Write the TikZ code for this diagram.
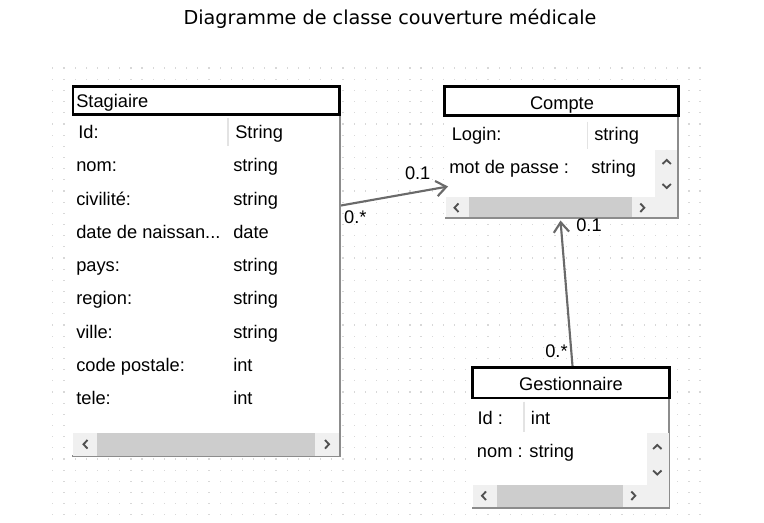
\documentclass[tikz,border=0pt]{standalone}
\usepackage{fontspec}
\setmainfont{Liberation Sans}
\newfontfamily\titlefont{DejaVu Sans}
\usetikzlibrary{arrows.meta,positioning}
\definecolor{dotgray}{HTML}{D8D8D8}
\definecolor{barbg}{HTML}{F0F0F0}
\definecolor{thumbgray}{HTML}{CDCDCD}
\definecolor{edgegray}{HTML}{8C8C8C}
\definecolor{divgray}{HTML}{E3E3E3}
\definecolor{chevgray}{HTML}{505050}
\definecolor{linkgray}{HTML}{6A6A6A}

\begin{document}
\begin{tikzpicture}[x=0.75pt,y=-0.75pt,font=\fontsize{13.7}{16}\selectfont,
  hdr/.style={draw=black,line width=2pt,fill=white},
  edge/.style={draw=edgegray,line width=1.5pt},
  divline/.style={draw=divgray,line width=1pt},
  chev/.style={draw=chevgray,line width=1.4pt},
  txt/.style={inner sep=0pt,text height=9.8pt,text depth=0pt},
  cell/.style={txt,anchor=west},
  link/.style={draw=linkgray,line width=1.6pt,-{Straight Barb[length=7.5pt,width=11.5pt,line width=1.6pt]}}]
  \useasboundingbox (0,0) rectangle (764,523);
  \node[font=\titlefont\fontsize{14.4}{17}\selectfont] (title) at (390,19) {Diagramme de classe couverture médicale};
  % dotted grid
  \foreach \i in {0,...,58}
    \foreach \j in {0,...,40}
      \fill[dotgray] (52.2+11.16*\i,67.5+11.17*\j) rectangle ++(1.2,1.2);

  % Stagiaire
  \fill[white] (72,115) rectangle (340,457);
  \draw[edge] (339.5,115) -- (339.5,456.5) -- (72,456.5);
  \fill[barbg] (73,433) rectangle (338.7,455.7);
  \fill[thumbgray] (97,433) rectangle (315,455.7);
  \draw[chev] (87.5,440) -- (83.5,444.3) -- (87.5,448.6);
  \draw[chev] (325,440) -- (329,444.3) -- (325,448.6);
  \draw[divline] (228,118) -- (228,146);
  \draw[hdr] (73,86.5) rectangle (339.5,114.5);
  \node[cell] (stag) at (76,100.8) {Stagiaire};
  \node[cell] (stag-id) at (78,131.7) {Id:};
  \node[cell] (stag-idt) at (235,131.7) {String};
  \foreach \y/\n/\t in {165.2/nom:/string, 198.5/civilité:/string, 231.8/{date de naissan...}/date,
                        265.1/pays:/string, 298.4/region:/string, 331.7/ville:/string,
                        365/code postale:/int, 398.3/tele:/int} {
    \node[cell] (stag-\y) at (76,\y) {\n};
    \node[cell] (stag-\y t) at (233,\y) {\t};}

  % Compte
  \fill[white] (445,115) rectangle (677.5,218.5);
  \draw[edge] (677.5,115) -- (677.5,218.5) -- (445,218.5);
  \fill[barbg] (655,150) rectangle (676.7,217.5);
  \fill[barbg] (445.5,197.3) rectangle (676.7,217.5);
  \fill[thumbgray] (469.3,197.3) rectangle (631.7,217.5);
  \draw[chev] (458.5,203.5) -- (454.5,207.7) -- (458.5,212);
  \draw[chev] (640.3,203.5) -- (644.3,207.7) -- (640.3,212);
  \draw[chev] (662.5,164) -- (666.7,160) -- (670.9,164);
  \draw[chev] (662.5,184) -- (666.7,188) -- (670.9,184);
  \draw[divline] (587.3,121.7) -- (587.3,149.3);
  \draw[hdr] (444.5,86.5) rectangle (678.5,115.5);
  \node[txt] (compte) at (562,102.5) {Compte};
  \node[cell] (cpt-login) at (451.5,133.5) {Login:};
  \node[cell] (cpt-logint) at (594,133.5) {string};
  \node[cell] (cpt-mdp) at (449,166.8) {mot de passe :};
  \node[cell] (cpt-mdpt) at (591,166.8) {string};

  % Gestionnaire
  \fill[white] (472,399) rectangle (669.3,508.5);
  \draw[edge] (669.3,399) -- (669.3,508.5) -- (472,508.5);
  \fill[barbg] (646.7,432.7) rectangle (668.5,507);
  \fill[barbg] (473.3,485) rectangle (668.5,507);
  \fill[thumbgray] (497.3,485) rectangle (622.7,507);
  \draw[chev] (486,491.5) -- (482,495.7) -- (486,500);
  \draw[chev] (631.3,491.5) -- (635.3,495.7) -- (631.3,500);
  \draw[chev] (653.1,449) -- (657.3,445) -- (661.5,449);
  \draw[chev] (653.1,470.5) -- (657.3,474.5) -- (661.5,470.5);
  \draw[divline] (524,401.7) -- (524,431.7);
  \draw[hdr] (472.3,367.3) rectangle (669.7,398);
  \node[txt] (gest) at (571,383.5) {Gestionnaire};
  \node[cell] (gest-id) at (477.3,417.5) {Id :};
  \node[cell] (gest-idt) at (530.7,417.5) {int};
  \node[cell] (gest-nom) at (476.7,450.8) {nom : string};

  % associations
  \coordinate (a1) at (341,205.5);
  \coordinate (b1) at (448,186.5);
  \coordinate (a2) at (572.5,366);
  \coordinate (b2) at (560.5,220.5);
  \draw[link] (a1) -- (b1);
  \draw[link] (a2) -- (b2);
  \node[txt] (m1) at (417.7,172.5) {0.1};
  \node[txt] (m2) at (355.3,216.8) {0.*};
  \node[txt] (m3) at (589,225.2) {0.1};
  \node[txt] (m4) at (556.5,350.8) {0.*};
\end{tikzpicture}
\end{document}
